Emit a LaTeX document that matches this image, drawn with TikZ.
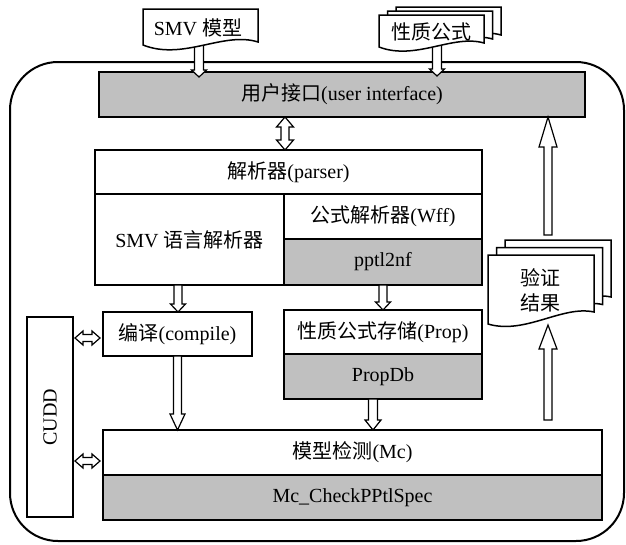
\documentclass[tikz,border=0pt]{standalone}
\usepackage{fontspec}
\setmainfont{Liberation Serif}
\newfontfamily\cjk{Noto Sans CJK SC}
\usetikzlibrary{calc}
\definecolor{boxgray}{RGB}{192,192,192}
\tikzset{
  base/.style={inner sep=0pt, outer sep=0pt, font=\fontsize{20}{25}\selectfont},
  wbox/.style={base, draw, line width=2pt, fill=white},
  gbox/.style={base, draw, line width=2pt, fill=boxgray},
  arw/.style={draw, fill=white, line width=1.2pt, line join=miter},
  docst/.style={draw, fill=white, line width=1.5pt, line join=miter},
  lbl/.style={base}
}
% single block arrow, vertical: from #1 to #2, half shaft #3, half head #4, head length #5
\newcommand{\varr}[5]{\draw[arw] let \p1=(#1), \p2=(#2), \n1={(\y2-\y1)/abs(\y2-\y1)} in
  ({\x1-#3pt},\y1) -- ({\x1-#3pt},{\y2-(\n1)*#5pt}) -- ({\x1-#4pt},{\y2-(\n1)*#5pt}) -- (\x1,\y2)
  -- ({\x1+#4pt},{\y2-(\n1)*#5pt}) -- ({\x1+#3pt},{\y2-(\n1)*#5pt}) -- ({\x1+#3pt},\y1) -- cycle;}
% double block arrow, vertical
\newcommand{\vdarr}[5]{\draw[arw] let \p1=(#1), \p2=(#2), \n1={(\y2-\y1)/abs(\y2-\y1)} in
  (\x1,\y1) -- ({\x1+#4pt},{\y1+(\n1)*#5pt}) -- ({\x1+#3pt},{\y1+(\n1)*#5pt}) -- ({\x1+#3pt},{\y2-(\n1)*#5pt})
  -- ({\x1+#4pt},{\y2-(\n1)*#5pt}) -- (\x1,\y2) -- ({\x1-#4pt},{\y2-(\n1)*#5pt}) -- ({\x1-#3pt},{\y2-(\n1)*#5pt})
  -- ({\x1-#3pt},{\y1+(\n1)*#5pt}) -- ({\x1-#4pt},{\y1+(\n1)*#5pt}) -- cycle;}
% double block arrow, horizontal
\newcommand{\hdarr}[5]{\draw[arw] let \p1=(#1), \p2=(#2), \n1={(\x2-\x1)/abs(\x2-\x1)} in
  (\x1,\y1) -- ({\x1+(\n1)*#5pt},{\y1+#4pt}) -- ({\x1+(\n1)*#5pt},{\y1+#3pt}) -- ({\x2-(\n1)*#5pt},{\y1+#3pt})
  -- ({\x2-(\n1)*#5pt},{\y1+#4pt}) -- (\x2,\y1) -- ({\x2-(\n1)*#5pt},{\y1-#4pt}) -- ({\x2-(\n1)*#5pt},{\y1-#3pt})
  -- ({\x1+(\n1)*#5pt},{\y1-#3pt}) -- ({\x1+(\n1)*#5pt},{\y1-#4pt}) -- cycle;}
% document shape: x, y (top-left), w, h (left height), r (right rise), a (low bulge), b (high bulge)
\newcommand{\docshape}[7]{\path[docst] (#1,#2) -- ({#1+#3},#2) -- ({#1+#3},{#2+#4-#5})
  .. controls ({#1+0.7*#3},{#2+#4-#7}) and ({#1+0.35*#3},{#2+#4+#6}) .. (#1,{#2+#4}) -- cycle;}
\begin{document}
\begin{tikzpicture}[x=1pt,y=-1pt]
\useasboundingbox (0,0) rectangle (626,544);
% outer frame
\node[base, draw, line width=2pt, rounded corners=48pt, minimum width=614pt, minimum height=479pt] (frame) at (317,301.5) {};
% boxes
\node[gbox, minimum width=486pt, minimum height=45pt] (ui) at (342,94.5) {{\cjk 用户接口}(user interface)};
\node[wbox, minimum width=387pt, minimum height=44pt] (parser) at (288.5,172) {{\cjk 解析器}(parser)};
\node[wbox, minimum width=189pt, minimum height=91pt] (smvp) at (189.5,239.5) {SMV {\cjk 语言解析器}};
\node[wbox, minimum width=198pt, minimum height=45pt] (wff) at (383,216.5) {{\cjk 公式解析器}(Wff)};
\node[gbox, minimum width=198pt, minimum height=46pt] (pptl) at (383,262) {pptl2nf};
\node[wbox, minimum width=149pt, minimum height=44pt] (compile) at (177.5,334) {{\cjk 编译}(compile)};
\node[wbox, minimum width=198pt, minimum height=44pt] (prop) at (383,332) {{\cjk 性质公式存储}(Prop)};
\node[gbox, minimum width=198pt, minimum height=45pt] (propdb) at (383,376.5) {PropDb};
\node[wbox, minimum width=46pt, minimum height=200pt] (cudd) at (50,417) {};
\node[lbl, rotate=90] (cuddlbl) at (cudd.center) {CUDD};
\node[wbox, minimum width=499pt, minimum height=45pt] (mc) at (352.5,452.5) {{\cjk 模型检测}(Mc)};
\node[gbox, minimum width=499pt, minimum height=45pt] (mcspec) at (352.5,497.5) {Mc\_CheckPPtlSpec};
% arrow end coordinates
\coordinate (smvb) at (199,40);
\coordinate (smvt) at ($(smvb |- ui.north)+(0,5)$);
\coordinate (formb) at (437,40);
\coordinate (formt) at ($(formb |- ui.north)+(0,4)$);
\coordinate (ax1) at (285,0);
\coordinate (ax2) at (178,0);
\coordinate (ax3) at (383,0);
\coordinate (ax4) at (373,0);
\coordinate (rx) at (548,0);
\coordinate (vtop) at (548,235);
\coordinate (vbot) at (548,325);
\coordinate (mcr) at (548,420);
\coordinate (cy1) at (0,338);
\coordinate (cy2) at (0,461);
\coordinate (c1a) at ($(cudd.east |- cy1)+(2,0)$);
\coordinate (c1b) at ($(compile.west |- cy1)+(-3,0)$);
\coordinate (c2a) at ($(cudd.east |- cy2)+(2,0)$);
\coordinate (c2b) at ($(mc.west |- cy2)+(-3,0)$);
% arrows from input documents
\varr{smvb}{smvt}{4.5}{7.5}{7}
\varr{formb}{formt}{4.5}{7.5}{7}
% documents
\docshape{396}{7}{105}{32}{4}{14}{13}
\docshape{387.5}{11}{105}{32}{4}{14}{13}
\docshape{379}{15}{105}{32}{4}{14}{13}
\node[lbl] (formtxt) at (431,32) {\cjk 性质公式};
\docshape{143}{9}{115}{36}{3}{16}{14}
\node[lbl] (smvtxt) at (198,28) {SMV {\cjk 模型}};
\docshape{505}{240}{106}{69}{12}{11}{19}
\docshape{496.5}{247.5}{106}{69}{12}{11}{19}
\docshape{488}{255}{106}{69}{12}{11}{19}
\node[lbl, align=center, font=\cjk\fontsize{20}{25}\selectfont] (vtxt) at (540,290.5) {验证\\结果};
% internal arrows
\vdarr{ax1 |- ui.south}{ax1 |- parser.north}{4}{8.5}{10}
\varr{ax2 |- smvp.south}{ax2 |- compile.north}{4}{7.5}{8}
\varr{ax3 |- pptl.south}{ax3 |- prop.north}{4}{7.5}{8}
\varr{compile.south}{compile.south |- mc.north}{4}{7.5}{16}
\varr{ax4 |- propdb.south}{ax4 |- mc.north}{4.5}{8}{10}
\varr{mcr}{vbot}{4}{9}{24}
\varr{vtop}{rx |- ui.south}{4}{9}{30}
\hdarr{c1a}{c1b}{3.5}{7}{8}
\hdarr{c2a}{c2b}{3.5}{7}{8}
\end{tikzpicture}
\end{document}
